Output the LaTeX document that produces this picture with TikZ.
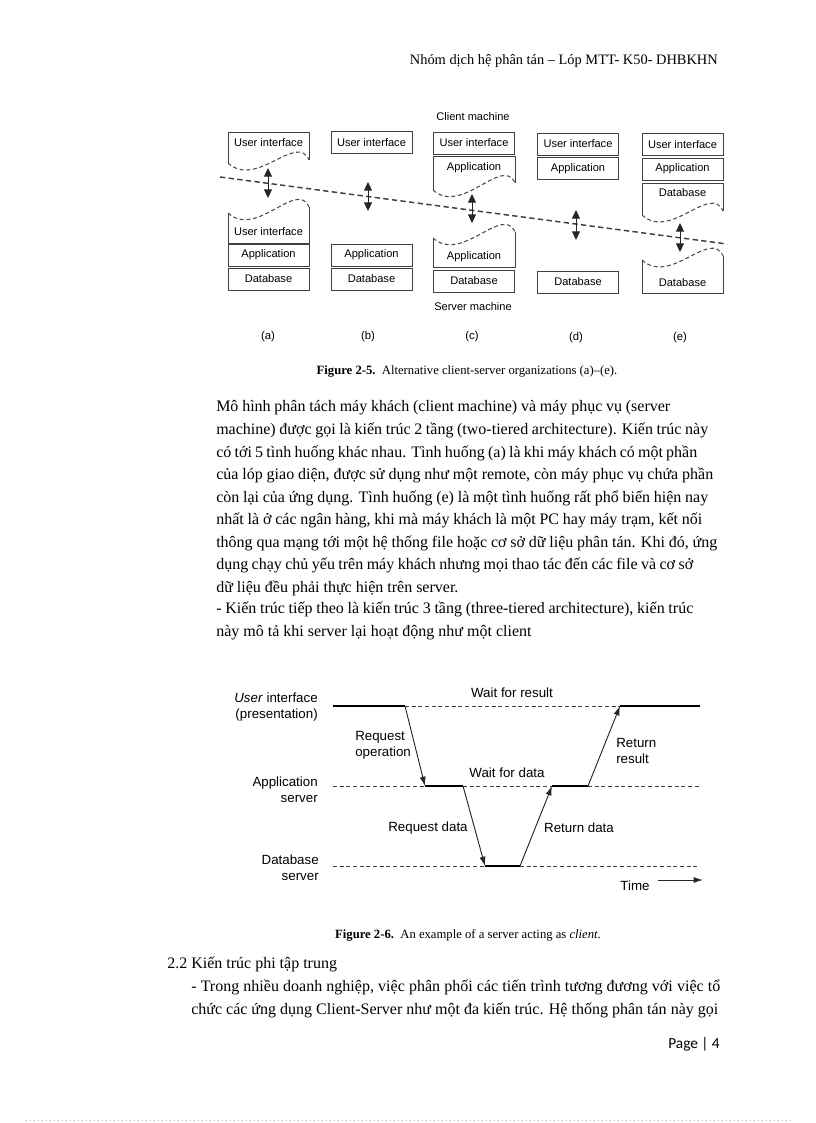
\documentclass[tikz,border=0pt]{standalone}
\usepackage{fontspec}
\setmainfont{Liberation Serif}
\setsansfont{Liberation Sans}
\newfontfamily\pagefont{Carlito}
\usepackage{tikz}
\usetikzlibrary{arrows.meta,positioning}

\tikzset{
  tier/.style={
    rectangle,
    draw=black!75,
    line width=0.7pt,
    minimum width=60.75pt,
    minimum height=16.5pt,
    inner sep=0pt,
    font=\sffamily\fontsize{8.3}{10}\selectfont
  },
  tiertext/.style={inner sep=0pt,font=\sffamily\fontsize{8.3}{10}\selectfont},
  tierline/.style={draw=black!75,line width=0.7pt},
  cutline/.style={draw=black!70,line width=0.8pt,dash pattern=on 3pt off 2pt},
  split/.style={draw=black!75,line width=1.1pt,dash pattern=on 4pt off 2.5pt},
  link/.style={{Triangle[length=6.5pt,width=6pt]}-{Triangle[length=6.5pt,width=6pt]},line width=0.7pt,draw=black!85},
  machine/.style={inner sep=0pt,font=\sffamily\fontsize{8.3}{10}\selectfont},
  sublabel/.style={inner sep=0pt,font=\sffamily\fontsize{8.5}{10}\selectfont},
  caption/.style={inner sep=0pt,font=\fontsize{9.5}{11}\selectfont},
  para/.style={inner sep=0pt,anchor=base west,font=\fontsize{12}{14}\selectfont},
  level/.style={inner sep=0pt,anchor=east,align=right,font=\sffamily\fontsize{10}{12}\selectfont},
  note/.style={inner sep=0pt,font=\sffamily\fontsize{10}{12}\selectfont},
  idle/.style={draw=black!75,line width=0.6pt,dash pattern=on 3pt off 2pt},
  busy/.style={draw=black,line width=2.2pt},
  call/.style={-{Latex[length=7pt,width=4.5pt]},line width=0.7pt,draw=black!85}
}

% box cut open by a wavy edge: left, right, flat edge, wave left end, wave right end
\newcommand{\cutpiece}[5]{%
  \pgfmathsetmacro{\ctlA}{#1+0.35*(#2-#1)}%
  \pgfmathsetmacro{\ctlB}{#2-0.15*(#2-#1)}%
  \draw[tierline] (#1,#4) -- (#1,#3) -- (#2,#3) -- (#2,#5);
  \draw[cutline] (#1,#4) .. controls (\ctlA,#4+26) and (\ctlB,#5-28) .. (#2,#5);
}

\begin{document}
\begin{tikzpicture}[x=0.75pt,y=-0.75pt]
  \useasboundingbox (0,0) rectangle (816,1123);

  % header
  \node[inner sep=0pt,anchor=base east,font=\fontsize{10.8}{13}\selectfont] (header) at (718,65)
    {Nhóm dịch hệ phân tán – Lóp MTT- K50- DHBKHN};

  % Figure 2-5
  \node[machine] (client) at (473,117) {Client machine};
  \node[machine] (server) at (473,307) {Server machine};

  % (a)
  \cutpiece{228}{309}{132}{163}{160}
  \node[tiertext] (aUItop) at (268.5,143) {User interface};
  \cutpiece{228}{309}{243}{213}{207}
  \node[tiertext] (aUIbot) at (268.5,232) {User interface};
  \node[tier] (aApp) at (268.5,255) {Application};
  \node[tier] (aDB) at (268.5,279) {Database};

  % (b)
  \node[tier] (bUI) at (371.5,142.5) {User interface};
  \node[tier] (bApp) at (371.5,255) {Application};
  \node[tier] (bDB) at (371.5,279) {Database};

  % (c)
  \node[tier] (cUI) at (474,143) {User interface};
  \cutpiece{433}{515}{156}{190}{183}
  \node[tiertext] (cApptop) at (474,168) {Application};
  \cutpiece{433}{515}{267}{238}{232}
  \node[tiertext] (cAppbot) at (474,257) {Application};
  \node[tier] (cDB) at (474,281) {Database};

  % (d)
  \node[tier] (dUI) at (578,144) {User interface};
  \node[tier] (dApp) at (578,168.5) {Application};
  \node[tier] (dDB) at (578,282) {Database};

  % (e)
  \node[tier] (eUI) at (682.5,144.5) {User interface};
  \node[tier] (eApp) at (682.5,169) {Application};
  \cutpiece{642}{723}{183}{215}{211}
  \node[tiertext] (eDBtop) at (682.5,193) {Database};
  \cutpiece{642}{723}{293}{260}{256}
  \node[tiertext] (eDBbot) at (682.5,283) {Database};

  % client/server split
  \coordinate (splitL) at (220,177);
  \coordinate (splitR) at (727,244);
  \draw[split] (splitL) -- (splitR);

  \coordinate (aUp) at (268,168);  \coordinate (aDown) at (268,198);
  \coordinate (bUp) at (368,182);  \coordinate (bDown) at (368,211);
  \coordinate (cUp) at (472,194);  \coordinate (cDown) at (472,223);
  \coordinate (dUp) at (576,210);  \coordinate (dDown) at (576,240);
  \coordinate (eUp) at (680,223);  \coordinate (eDown) at (680,252);
  \draw[link] (aUp) -- (aDown);
  \draw[link] (bUp) -- (bDown);
  \draw[link] (cUp) -- (cDown);
  \draw[link] (dUp) -- (dDown);
  \draw[link] (eUp) -- (eDown);

  \node[sublabel] (labA) at (268,337) {(a)};
  \node[sublabel] (labB) at (368,337) {(b)};
  \node[sublabel] (labC) at (472,337) {(c)};
  \node[sublabel] (labD) at (576,338) {(d)};
  \node[sublabel] (labE) at (680,338) {(e)};

  \node[caption] (cap25) at (467,372)
    {\textbf{Figure 2-5.}\ \ Alternative client-server organizations (a)–(e).};

  % body text
  \node[para] (p1) at (216,411) {\hbox to 340.5pt{Mô hình phân tách máy khách (client machine) và máy phục vụ (server}};
  \node[para] (p2) at (216,434) {\hbox to 369pt{machine) được gọi là kiến trúc 2 tầng (two-tiered architecture). Kiến trúc này}};
  \node[para] (p3) at (216,457) {\hbox to 360.75pt{có tới 5 tình huống khác nhau. Tình huống (a) là khi máy khách có một phần}};
  \node[para] (p4) at (216,479) {\hbox to 372.75pt{của lóp giao diện, được sử dụng như một remote, còn máy phục vụ chứa phần}};
  \node[para] (p5) at (216,502) {\hbox to 369pt{còn lại của ứng dụng. Tình huống (e) là một tình huống rất phổ biến hiện nay}};
  \node[para] (p6) at (216,524) {\hbox to 364.5pt{nhất là ở các ngân hàng, khi mà máy khách là một PC hay máy trạm, kết nối}};
  \node[para] (p7) at (216,547) {\hbox to 375.75pt{thông qua mạng tới một hệ thống file hoặc cơ sở dữ liệu phân tán. Khi đó, ứng}};
  \node[para] (p8) at (216,569) {\hbox to 357.75pt{dụng chạy chủ yếu trên máy khách nhưng mọi thao tác đến các file và cơ sở}};
  \node[para] (p9) at (216,592) {dữ liệu đều phải thực hiện trên server.};
  \node[para] (p10) at (216,613) {\hbox to 357.75pt{- Kiến trúc tiếp theo là kiến trúc 3 tầng (three-tiered architecture), kiến trúc}};
  \node[para] (p11) at (216,636) {này mô tả khi server lại hoạt động như một client};

  % Figure 2-6
  \node[level] (lvUI) at (318,707) {\textit{User} interface\\(presentation)};
  \node[level] (lvApp) at (318,789.5) {Application\\server};
  \node[level] (lvDB) at (319,867.5) {Database\\server};

  \coordinate (ui0) at (333,706);
  \coordinate (ui1) at (405,706);
  \coordinate (ui2) at (620,706);
  \coordinate (ui3) at (700,706);
  \coordinate (ap0) at (333,786);
  \coordinate (ap1) at (425,786);
  \coordinate (ap2) at (463,786);
  \coordinate (ap3) at (552,786);
  \coordinate (ap4) at (588,786);
  \coordinate (ap5) at (700,786);
  \coordinate (db0) at (333,866);
  \coordinate (db1) at (485,866);
  \coordinate (db2) at (520,866);
  \coordinate (db3) at (700,866);

  \draw[idle] (ui1) -- (ui2);
  \draw[idle] (ap0) -- (ap1);
  \draw[idle] (ap2) -- (ap3);
  \draw[idle] (ap4) -- (ap5);
  \draw[idle] (db0) -- (db1);
  \draw[idle] (db2) -- (db3);
  \draw[busy] (ui0) -- (ui1);
  \draw[busy] (ui2) -- (ui3);
  \draw[busy] (ap1) -- (ap2);
  \draw[busy] (ap3) -- (ap4);
  \draw[busy] (db1) -- (db2);

  \draw[call] (ui1) -- (ap1);
  \draw[call] (ap2) -- (db1);
  \draw[call] (db2) -- (ap3);
  \draw[call] (ap4) -- (ui2);

  \node[note] (waitRes) at (512,693) {Wait for result};
  \node[note,anchor=west,align=left] (reqOp) at (355,745.5) {Request\\operation};
  \node[note] (waitData) at (507,773) {Wait for data};
  \node[note,anchor=west,align=left] (retRes) at (616,750.5) {Return\\result};
  \node[note] (reqData) at (428,828) {Request data};
  \node[note] (retData) at (579,828) {Return data};
  \node[note] (time) at (635,886) {Time};
  \coordinate (timeL) at (658,880);
  \coordinate (timeR) at (703,880);
  \draw[call] (timeL) -- (timeR);

  \node[caption] (cap26) at (468,935)
    {\textbf{Figure 2-6.}\ \ An example of a server acting as \textit{client}.};

  % section 2.2
  \node[para] (sec) at (167,968) {2.2 Kiến trúc phi tập trung};
  \node[para] (s1) at (191,991) {\hbox to 396.75pt{- Trong nhiều doanh nghiệp, việc phân phối các tiến trình tương đương với việc tổ}};
  \node[para] (s2) at (191,1014) {\hbox to 395.25pt{chức các ứng dụng Client-Server như một đa kiến trúc. Hệ thống phân tán này gọi}};

  \node[inner sep=0pt,anchor=base east,font=\pagefont\fontsize{11.5}{13}\selectfont] (page) at (720,1048) {Page | 4};

  % footer rule
  \coordinate (footL) at (26,1120);
  \coordinate (footR) at (791,1120);
  \draw[black!30,line width=0.4pt,dash pattern=on 0.6pt off 2.4pt] (footL) -- (footR);
\end{tikzpicture}
\end{document}
